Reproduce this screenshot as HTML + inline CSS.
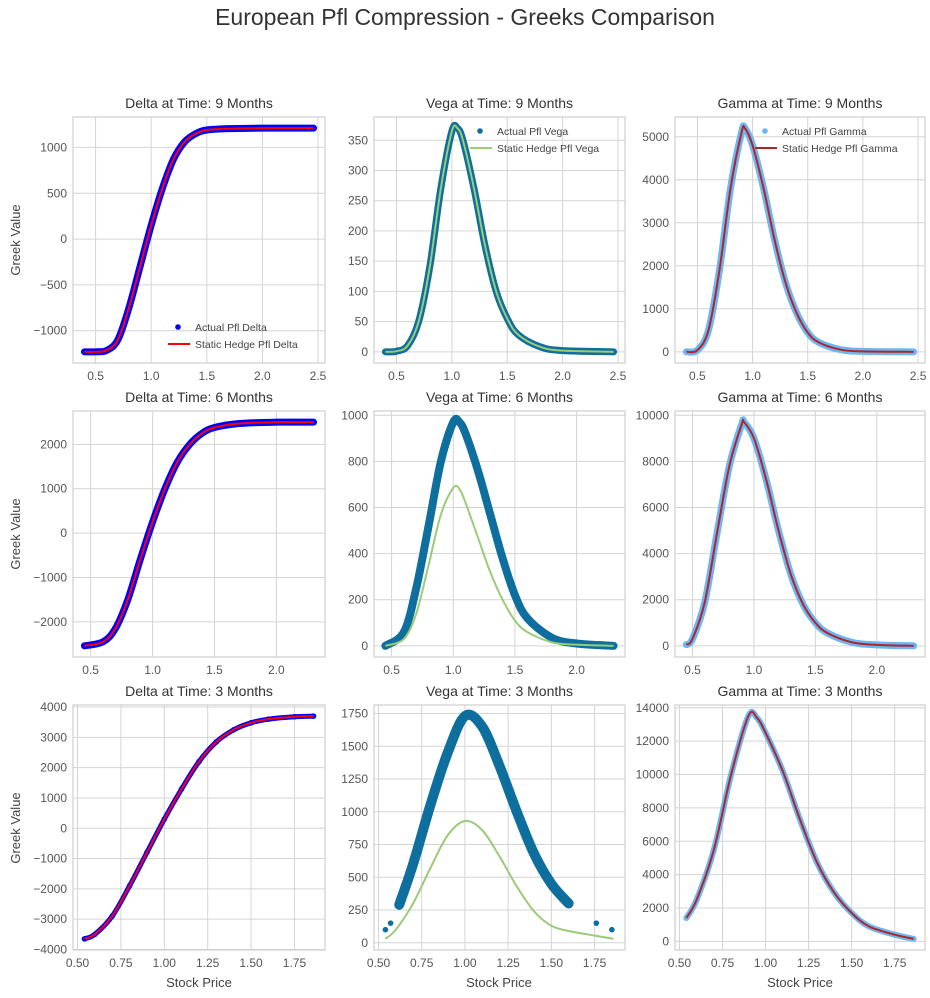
<!DOCTYPE html>
<html><head><meta charset="utf-8">
<style>
body{margin:0;background:#fff;width:930px;height:993px;overflow:hidden;font-family:"Liberation Sans",sans-serif}
svg text{font-family:"Liberation Sans",sans-serif}
</style></head>
<body>
<svg id="chart" width="930" height="993" xmlns="http://www.w3.org/2000/svg">
<text x="465" y="25" text-anchor="middle" font-size="23" fill="#333">European Pfl Compression - Greeks Comparison</text>
<text transform="translate(20,240) rotate(-90)" text-anchor="middle" font-size="13" fill="#444">Greek Value</text>
<text transform="translate(20,534) rotate(-90)" text-anchor="middle" font-size="13" fill="#444">Greek Value</text>
<text transform="translate(20,828) rotate(-90)" text-anchor="middle" font-size="13" fill="#444">Greek Value</text>
<text x="199" y="987" text-anchor="middle" font-size="13" fill="#444">Stock Price</text>
<text x="499" y="987" text-anchor="middle" font-size="13" fill="#444">Stock Price</text>
<text x="800" y="987" text-anchor="middle" font-size="13" fill="#444">Stock Price</text>
</svg>
<script>
// ---- data ----
const xTicks9 = [0.5, 1.0, 1.5, 2.0, 2.5];
const xTicks6 = [0.5, 1.0, 1.5, 2.0];
const xTicks3 = [0.50, 0.75, 1.00, 1.25, 1.50, 1.75];

const delta9X = [0.40,0.5,0.6,0.7,0.8,0.9,1.0,1.1,1.2,1.3,1.4,1.5,1.7,2.0,2.46];
const delta9Actual = [-1230,-1230,-1215,-1100,-750,-300,150,550,870,1060,1150,1190,1205,1210,1210];
const delta9Hedge = [-1230,-1230,-1215,-1100,-750,-300,150,550,870,1060,1150,1190,1205,1210,1210];
const delta9Ticks = [-1000,-500,0,500,1000];

const vega9X = [0.40,0.5,0.6,0.7,0.8,0.9,1.0,1.05,1.1,1.2,1.3,1.4,1.5,1.6,1.8,2.0,2.46];
const vega9Actual = [0,1,10,50,140,270,365,370,350,270,175,100,55,28,8,2,0];
const vega9Hedge = [0,1,10,50,140,270,365,370,350,270,175,100,55,28,8,2,0];
const vega9Ticks = [0,50,100,150,200,250,300,350];

const gamma9X = [0.40,0.5,0.6,0.7,0.8,0.9,0.93,1.0,1.1,1.2,1.3,1.4,1.5,1.6,1.8,2.0,2.46];
const gamma9Actual = [0,40,500,1900,3800,5100,5200,4800,3800,2600,1600,900,450,220,50,10,0];
const gamma9Hedge = [0,40,500,1900,3800,5100,5200,4800,3800,2600,1600,900,450,220,50,10,0];
const gamma9Ticks = [0,1000,2000,3000,4000,5000];

const delta6X = [0.45,0.6,0.7,0.8,0.9,1.0,1.1,1.2,1.3,1.4,1.5,1.7,2.0,2.3];
const delta6Actual = [-2540,-2450,-2150,-1500,-600,250,1000,1600,2000,2250,2380,2470,2500,2500];
const delta6Hedge = [-2540,-2450,-2150,-1500,-600,250,1000,1600,2000,2250,2380,2470,2500,2500];
const delta6Ticks = [-2000,-1000,0,1000,2000];

const vega6X = [0.45,0.6,0.7,0.8,0.9,1.0,1.05,1.1,1.2,1.3,1.4,1.5,1.6,1.8,2.0,2.3];
const vega6Actual = [0,60,250,520,800,970,970,920,760,570,380,220,120,35,10,0];
const vega6Hedge = [0,30,140,350,570,685,680,620,470,320,200,110,60,15,5,0];
const vega6Ticks = [0,200,400,600,800,1000];

const gamma6X = [0.45,0.5,0.6,0.7,0.8,0.9,0.92,1.0,1.1,1.2,1.3,1.4,1.5,1.6,1.8,2.0,2.3];
const gamma6Actual = [50,300,1900,4900,7800,9600,9700,9000,7200,5000,3100,1800,1000,550,150,40,0];
const gamma6Hedge = [50,300,1900,4900,7800,9600,9700,9000,7200,5000,3100,1800,1000,550,150,40,0];
const gamma6Ticks = [0,2000,4000,6000,8000,10000];

const delta3X = [0.54,0.6,0.7,0.8,0.9,1.0,1.1,1.2,1.3,1.4,1.5,1.6,1.75,1.86];
const delta3Actual = [-3650,-3500,-2900,-1900,-800,300,1300,2200,2850,3250,3480,3600,3680,3700];
const delta3Hedge = [-3650,-3500,-2900,-1900,-800,300,1300,2200,2850,3250,3480,3600,3680,3700];
const delta3Ticks = [-4000,-3000,-2000,-1000,0,1000,2000,3000,4000];

const vega3X = [0.54,0.57,0.62,0.7,0.8,0.9,1.0,1.1,1.2,1.3,1.4,1.5,1.6,1.76,1.85];
const vega3Actual = [100,150,290,600,1050,1450,1730,1650,1350,1000,680,450,300,150,100];
const vega3HedgeX = [0.54,0.6,0.7,0.8,0.9,1.0,1.1,1.2,1.3,1.4,1.5,1.6,1.75,1.86];
const vega3Hedge = [30,100,300,570,820,930,860,660,430,240,130,90,55,30];
const vega3Ticks = [0,250,500,750,1000,1250,1500,1750];

const gamma3X = [0.54,0.6,0.7,0.8,0.9,0.95,1.0,1.1,1.2,1.3,1.4,1.5,1.6,1.75,1.86];
const gamma3Actual = [1400,2500,5500,10000,13500,13400,12500,10200,7300,4700,2900,1700,900,400,150];
const gamma3Hedge = [1400,2500,5500,10000,13500,13400,12500,10200,7300,4700,2900,1700,900,400,150];
const gamma3Ticks = [0,2000,4000,6000,8000,10000,12000,14000];

// ---- drawing ----
const NS = "http://www.w3.org/2000/svg";
const svg = document.getElementById("chart");
function mk(tag, attrs, parent){const e=document.createElementNS(NS,tag);for(const k in attrs)e.setAttribute(k,attrs[k]);(parent||svg).appendChild(e);return e;}
function fmt(v,dec){return (v<0?"\u2212":"")+Math.abs(v).toFixed(dec);}
// smooth path (Catmull-Rom) through screen points
function smooth(p){
  if(p.length<2)return "";
  let d="M"+p[0][0]+","+p[0][1];
  for(let i=0;i<p.length-1;i++){
    const p0=p[i-1]||p[i],p1=p[i],p2=p[i+1],p3=p[i+2]||p2;
    const c1=[p1[0]+(p2[0]-p0[0])/6,p1[1]+(p2[1]-p0[1])/6];
    const c2=[p2[0]-(p3[0]-p1[0])/6,p2[1]-(p3[1]-p1[1])/6];
    d+=" C"+c1[0]+","+c1[1]+" "+c2[0]+","+c2[1]+" "+p2[0]+","+p2[1];
  }
  return d;
}

const colsX=[[73,325],[374,625],[675,925]];
const rowsY=[[117,363],[411,657],[705,950]];

function panel(r,c,o){
  const [L,R]=colsX[c],[T,B]=rowsY[r];
  const allX=o.x.concat(o.hx||o.x), allY=o.a.concat(o.h);
  let x0=Math.min(...allX),x1=Math.max(...allX),y0=Math.min(...allY),y1=Math.max(...allY);
  const mx=(x1-x0)*0.05,my=(y1-y0)*0.05;x0-=mx;x1+=mx;y0-=my;y1+=my;
  const sx=v=>L+(v-x0)/(x1-x0)*(R-L), sy=v=>B-(v-y0)/(y1-y0)*(B-T);
  const g=mk("g",{});
  
  
  o.xt.forEach(t=>{const X=sx(t);if(X<L||X>R)return;
    mk("line",{x1:X,x2:X,y1:T,y2:B,stroke:"#d4d4d4","stroke-width":1},g);
    const tx=mk("text",{x:X,y:B+17,"text-anchor":"middle","font-size":12,fill:"#555"},g);tx.textContent=fmt(t,o.xd);
    });
  o.yt.forEach(t=>{const Y=sy(t);if(Y<T-1||Y>B)return;
    mk("line",{x1:L,x2:R,y1:Y,y2:Y,stroke:"#d4d4d4","stroke-width":1},g);
    const tx=mk("text",{x:L-6,y:Y+4,"text-anchor":"end","font-size":12,fill:"#555"},g);tx.textContent=fmt(t,0);
    });
  mk("rect",{x:L,y:T,width:R-L,height:B-T,fill:"none",stroke:"#cfcfcf","stroke-width":1.2},g);
  const tt=mk("text",{x:(L+R)/2,y:T-9,"text-anchor":"middle","font-size":14,fill:"#333"},g);tt.textContent=o.title;
  
  const pts=o.x.map((v,i)=>[sx(v),sy(o.a[i])]);
  if(o.band){const bp=o.bandIdx?pts.slice(o.bandIdx[0],o.bandIdx[1]):pts;
    const b=mk("path",{d:smooth(bp),fill:"none",stroke:o.ac,"stroke-width":o.bw||7,"stroke-linejoin":"round","stroke-linecap":"round"},g);
    }
  o.x.forEach((v,i)=>{const d=mk("circle",{cx:sx(v),cy:sy(o.a[i]),r:2.8,fill:o.ac},g);
    });
  const hx=o.hx||o.x;
  const hl=mk("path",{d:smooth(hx.map((v,i)=>[sx(v),sy(o.h[i])])),fill:"none",stroke:o.hc,"stroke-width":o.hw||2,"stroke-linejoin":"round"},g);
  
  if(o.leg){const [lx,ly]=o.leg;
    const lg=mk("g",{},g);
    mk("circle",{cx:lx+10,cy:ly,r:2.8,fill:o.ac},lg);
    const t1=mk("text",{x:lx+27,y:ly+4,"font-size":10.5,fill:"#444"},lg);t1.textContent=o.legA;
    mk("line",{x1:lx,x2:lx+22,y1:ly+17,y2:ly+17,stroke:o.hc,"stroke-width":2},lg);
    const t2=mk("text",{x:lx+27,y:ly+21,"font-size":10.5,fill:"#444"},lg);t2.textContent=o.legH;}
}
const DB="#0000ff",DR="#ff0000",VB="#0e6f9e",VG="#9bcb78",GB="#6cb6f5",GR="#b02525";
panel(0,0,{name:"delta-9m-panel",title:"Delta at Time: 9 Months",x:delta9X,a:delta9Actual,h:delta9Hedge,xt:xTicks9,xd:1,yt:delta9Ticks,ac:DB,hc:DR,band:1,leg:[168,327],legA:"Actual Pfl Delta",legH:"Static Hedge Pfl Delta"});
panel(0,1,{name:"vega-9m-panel",title:"Vega at Time: 9 Months",x:vega9X,a:vega9Actual,h:vega9Hedge,xt:xTicks9,xd:1,yt:vega9Ticks,ac:VB,hc:VG,band:1,leg:[470,131],legA:"Actual Pfl Vega",legH:"Static Hedge Pfl Vega"});
panel(0,2,{name:"gamma-9m-panel",title:"Gamma at Time: 9 Months",x:gamma9X,a:gamma9Actual,h:gamma9Hedge,xt:xTicks9,xd:1,yt:gamma9Ticks,ac:GB,hc:GR,band:1,leg:[755,131],legA:"Actual Pfl Gamma",legH:"Static Hedge Pfl Gamma"});
panel(1,0,{name:"delta-6m-panel",title:"Delta at Time: 6 Months",x:delta6X,a:delta6Actual,h:delta6Hedge,xt:xTicks6,xd:1,yt:delta6Ticks,ac:DB,hc:DR,band:1});
panel(1,1,{name:"vega-6m-panel",title:"Vega at Time: 6 Months",x:vega6X,a:vega6Actual,h:vega6Hedge,xt:xTicks6,xd:1,yt:vega6Ticks,ac:VB,hc:VG,band:1,bw:8});
panel(1,2,{name:"gamma-6m-panel",title:"Gamma at Time: 6 Months",x:gamma6X,a:gamma6Actual,h:gamma6Hedge,xt:xTicks6,xd:1,yt:gamma6Ticks,ac:GB,hc:GR,band:1});
panel(2,0,{name:"delta-3m-panel",title:"Delta at Time: 3 Months",x:delta3X,a:delta3Actual,h:delta3Hedge,xt:xTicks3,xd:2,yt:delta3Ticks,ac:DB,hc:DR,band:1,bw:5});
panel(2,1,{name:"vega-3m-panel",title:"Vega at Time: 3 Months",x:vega3X,a:vega3Actual,hx:vega3HedgeX,h:vega3Hedge,xt:xTicks3,xd:2,yt:vega3Ticks,ac:VB,hc:VG,band:1,bw:10,bandIdx:[2,13]});
panel(2,2,{name:"gamma-3m-panel",title:"Gamma at Time: 3 Months",x:gamma3X,a:gamma3Actual,h:gamma3Hedge,xt:xTicks3,xd:2,yt:gamma3Ticks,ac:GB,hc:GR,band:1,bw:6});
</script>
</body></html>
